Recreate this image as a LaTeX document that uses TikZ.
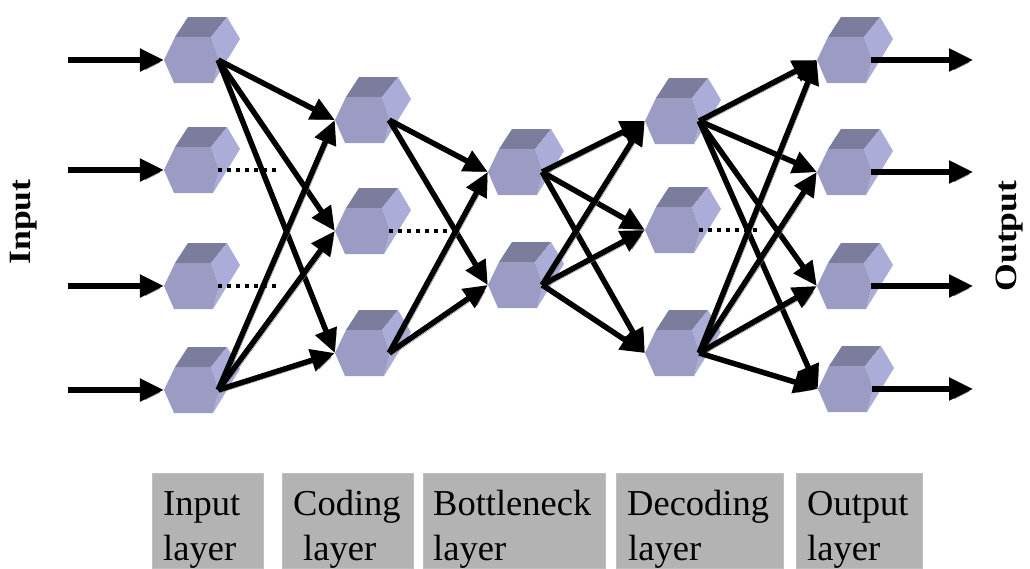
\documentclass[tikz,border=0pt]{standalone}
\usepackage{fontspec}
\setmainfont{Liberation Serif}
\usetikzlibrary{arrows.meta}
\definecolor{frontc}{RGB}{155,155,195}
\definecolor{topc}{RGB}{124,124,156}
\definecolor{rightc}{RGB}{172,172,216}
\definecolor{boxgray}{RGB}{179,179,179}
\definecolor{shadowc}{RGB}{128,128,128}
\newcommand{\cubenode}[3]{%
  \begin{scope}[shift={(#2,#3)}]
    \fill[topc] (-16,-23) -- (-3,-43) -- (36,-43) -- (20,-23) -- cycle;
    \fill[rightc] (20,-23) -- (36,-43) -- (49,-21) -- (22,23) -- (28,0) -- cycle;
    \fill[frontc] (-27,0) -- (-16,-23) -- (20,-23) -- (28,0) -- (22,23) -- (-17,23) -- cycle;
  \end{scope}
  \node[cubeanchor] (#1) at (#2,#3) {};}
\begin{document}
\begin{tikzpicture}[x=1pt,y=-1pt,
  cubeanchor/.style={rectangle, minimum width=54pt, minimum height=46pt, inner sep=0pt},
  conn/.style={line width=5.5pt, -{Triangle[length=24pt,width=22pt]},
    preaction={draw=shadowc, transform canvas={shift={(2.5pt,-2.5pt)}}}},
  dots/.style={line width=4pt, dash pattern=on 4pt off 5pt},
  lbox/.style={rectangle, fill=boxgray, draw=boxgray!85!white, line width=0.6pt, anchor=north west, inner sep=0pt, minimum height=95pt},
  ltext/.style={font=\fontsize{36.5}{42}\selectfont, inner sep=0pt, anchor=base west},
  side/.style={rotate=90, font=\bfseries\fontsize{31}{32}\selectfont, inner sep=0pt}]
\useasboundingbox (0,0) rectangle (1030,568);
\fill[white] (0,0) rectangle (1030,568);

% cubes
\cubenode{i1}{191}{60}
\cubenode{i2}{191}{170}
\cubenode{i3}{191}{286}
\cubenode{i4}{191}{390}
\cubenode{c1}{362}{120}
\cubenode{c2}{362}{231}
\cubenode{c3}{362}{353}
\cubenode{b1}{515}{172}
\cubenode{b2}{515}{285}
\cubenode{d1}{672}{121}
\cubenode{d2}{672}{230}
\cubenode{d3}{672}{353}
\cubenode{o1}{844}{60}
\cubenode{o2}{844}{172}
\cubenode{o3}{844}{286}
\cubenode{o4}{845}{389}

% dotted lines
\coordinate (e2) at (280,170);
\coordinate (e3) at (278,286);
\coordinate (ec) at (455,231);
\coordinate (ed) at (758,230);
\draw[dots] (i2.east) -- (e2);
\draw[dots] (i3.east) -- (e3);
\draw[dots] (c2.east) -- (ec);
\draw[dots] (d2.east) -- (ed);

% input / output arrows
\coordinate (in1) at (68,60);
\coordinate (in2) at (68,170);
\coordinate (in3) at (68,286);
\coordinate (in4) at (68,390);
\coordinate (out1) at (973,60);
\coordinate (out2) at (973,172);
\coordinate (out3) at (973,286);
\coordinate (out4) at (973,389);
\foreach \k in {1,2,3,4} {
  \draw[conn] (in\k) -- (i\k.west);
  \draw[conn] (o\k.east) -- (out\k);
}

% layer connections
\foreach \s in {i1,i4} \foreach \t in {c1,c2,c3} \draw[conn] (\s.east) -- (\t.west);
\foreach \s in {c1,c3} \foreach \t in {b1,b2} \draw[conn] (\s.east) -- (\t.west);
\foreach \s in {b1,b2} \foreach \t in {d1,d2,d3} \draw[conn] (\s.east) -- (\t.west);
\foreach \s in {d1,d3} \foreach \t in {o1,o2,o3,o4} \draw[conn] (\s.east) -- (\t.west);

% side labels
\node[side] (inlbl) at (24,222) {\scalebox{1.15}[1]{Input}};
\node[side] (outlbl) at (1010,236) {\scalebox{1.15}[1]{Output}};

% layer boxes
\node[lbox, minimum width=111pt] (bx1) at (152,473) {};
\node[lbox, minimum width=131pt] (bx2) at (282,473) {};
\node[lbox, minimum width=182pt] (bx3) at (423,473) {};
\node[lbox, minimum width=167pt] (bx4) at (616,473) {};
\node[lbox, minimum width=126pt] (bx5) at (796,473) {};

\node[ltext] (t1a) at (163,515) {Input};
\node[ltext] (t1b) at (163,560) {layer};
\node[ltext] (t2a) at (293,515) {Coding};
\node[ltext] (t2b) at (303,560) {layer};
\node[ltext] (t3a) at (433,515) {Bottleneck};
\node[ltext] (t3b) at (433,560) {layer};
\node[ltext] (t4a) at (627,515) {Decoding};
\node[ltext] (t4b) at (628,560) {layer};
\node[ltext] (t5a) at (807,515) {Output};
\node[ltext] (t5b) at (807,560) {layer};
\end{tikzpicture}
\end{document}
